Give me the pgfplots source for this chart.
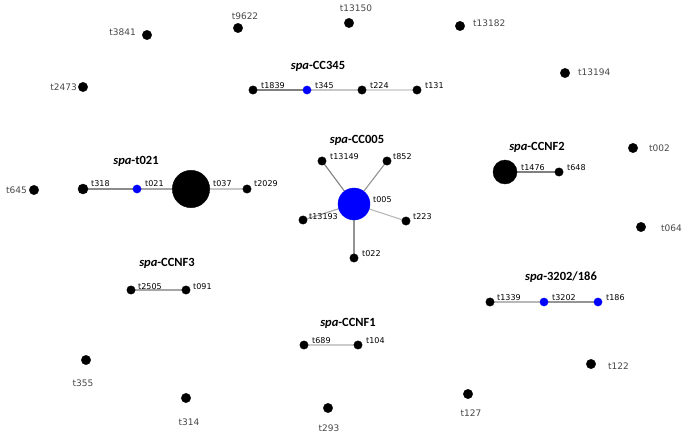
\documentclass[border=0pt]{standalone}
\usepackage{pgfplots}
\pgfplotsset{compat=1.18}
\usepackage{fontspec}
\setmainfont{DejaVu Sans}
\newfontfamily\titlefont{Carlito}
\definecolor{nodeblue}{RGB}{0,0,255}
\newcommand{\cl}[1]{{\fontsize{8}{9}\selectfont #1}}
\newcommand{\il}[1]{{\color{black!72}\fontsize{9}{10}\selectfont #1}}
\newcommand{\ttl}[1]{{\titlefont\bfseries\fontsize{12.5}{14}\selectfont\textit{spa}-#1}}
\begin{document}
\begin{tikzpicture}
\begin{axis}[
    at={(0,0)}, anchor=south west,
    width=685pt, height=436pt, scale only axis,
    xmin=0, xmax=685, ymin=0, ymax=436,
    y dir=reverse, hide axis, clip=false]
  % edges
  \addplot[black!50, line width=1.1pt] coordinates {(253,90) (307,90)};
  \addplot[black!22, line width=1.1pt] coordinates {(307,90) (362,90)};
  \addplot[black!15, line width=1.1pt] coordinates {(362,90) (417,90)};
  \addplot[black!45, line width=1.1pt] coordinates {(83,189) (137,189)};
  \addplot[black!35, line width=1.1pt] coordinates {(137,189) (191,189)};
  \addplot[black!22, line width=1.1pt] coordinates {(191,189) (247,189)};
  \addplot[black!50, line width=1.1pt] coordinates {(354,204) (322,161)};
  \addplot[black!42, line width=1.1pt] coordinates {(354,204) (387,161)};
  \addplot[black!28, line width=1.1pt] coordinates {(354,204) (406,221)};
  \addplot[black!35, line width=1.1pt] coordinates {(354,204) (303,220)};
  \addplot[black!42, line width=1.1pt] coordinates {(354,204) (354,258)};
  \addplot[black!50, line width=1.1pt] coordinates {(505,172) (559,172)};
  \addplot[black!35, line width=1.1pt] coordinates {(131,290) (186,290)};
  \addplot[black!20, line width=1.1pt] coordinates {(304,345) (358,345)};
  \addplot[black!28, line width=1.1pt] coordinates {(490,302) (544,302)};
  \addplot[black!42, line width=1.1pt] coordinates {(544,302) (598,302)};
  % isolated nodes
  \addplot[only marks, mark=*, mark size=4.7pt, black] coordinates {
    (147,35) (238,28) (349,23) (460,26) (565,73) (83,87) (34,190)
    (633,148) (641,227) (86,360) (186,398) (328,408) (468,394) (591,364)};
  % small cluster nodes
  \addplot[only marks, mark=*, mark size=4.2pt, black] coordinates {
    (253,90) (362,90) (417,90) (247,189) (322,161) (387,161) (406,221)
    (354,258) (303,220) (559,172) (131,290) (186,290) (304,345) (358,345)
    (490,302)};
  \addplot[only marks, mark=*, mark size=5pt, black] coordinates {(83,189)};
  \addplot[only marks, mark=*, mark size=4.1pt, nodeblue] coordinates {
    (307,90) (137,189) (544,302) (598,302)};
  % large nodes
  \addplot[only marks, mark=*, mark size=18.7pt, black] coordinates {(191,189)};
  \addplot[only marks, mark=*, mark size=12pt, black] coordinates {(505,172)};
  \addplot[only marks, mark=*, mark size=16pt, nodeblue] coordinates {(354,204)};
  % cluster titles
  \node at (axis cs:318,66) {\ttl{CC345}};
  \node at (axis cs:136,161) {\ttl{t021}};
  \node at (axis cs:357,140) {\ttl{CC005}};
  \node at (axis cs:537,147) {\ttl{CCNF2}};
  \node at (axis cs:167,263) {\ttl{CCNF3}};
  \node at (axis cs:348,323) {\ttl{CCNF1}};
  \node at (axis cs:561,277) {\ttl{3202/186}};
  % cluster labels
  \begin{scope}[every node/.style={anchor=west, inner sep=0pt}]
    \node at (axis cs:261,86) {\cl{t1839}};
    \node at (axis cs:315,86) {\cl{t345}};
    \node at (axis cs:370,86) {\cl{t224}};
    \node at (axis cs:425,86) {\cl{t131}};
    \node at (axis cs:91,184) {\cl{t318}};
    \node at (axis cs:145,184) {\cl{t021}};
    \node at (axis cs:213,184) {\cl{t037}};
    \node at (axis cs:254,184) {\cl{t2029}};
    \node at (axis cs:330,157) {\cl{t13149}};
    \node at (axis cs:393,157) {\cl{t852}};
    \node at (axis cs:413,217) {\cl{t223}};
    \node at (axis cs:362,254) {\cl{t022}};
    \node at (axis cs:309,217) {\cl{t13193}};
    \node at (axis cs:373,200) {\cl{t005}};
    \node at (axis cs:521,168) {\cl{t1476}};
    \node at (axis cs:567,168) {\cl{t648}};
    \node at (axis cs:138,287) {\cl{t2505}};
    \node at (axis cs:193,287) {\cl{t091}};
    \node at (axis cs:312,341) {\cl{t689}};
    \node at (axis cs:366,341) {\cl{t104}};
    \node at (axis cs:497,298) {\cl{t1339}};
    \node at (axis cs:552,298) {\cl{t3202}};
    \node at (axis cs:606,298) {\cl{t186}};
    % isolated labels, right side
    \node at (axis cs:473,23) {\il{t13182}};
    \node at (axis cs:578,72) {\il{t13194}};
    \node at (axis cs:649,148) {\il{t002}};
    \node at (axis cs:661,228) {\il{t064}};
    \node at (axis cs:608,366) {\il{t122}};
  \end{scope}
  \begin{scope}[every node/.style={anchor=east, inner sep=0pt}]
    \node at (axis cs:136,32) {\il{t3841}};
    \node at (axis cs:77,87) {\il{t2473}};
    \node at (axis cs:27,190) {\il{t645}};
  \end{scope}
  \begin{scope}[every node/.style={inner sep=0pt}]
    \node at (axis cs:245,16) {\il{t9622}};
    \node at (axis cs:356,8) {\il{t13150}};
    \node at (axis cs:83,383) {\il{t355}};
    \node at (axis cs:189,422) {\il{t314}};
    \node at (axis cs:329,428) {\il{t293}};
    \node at (axis cs:471,413) {\il{t127}};
  \end{scope}
\end{axis}
\pgfresetboundingbox
\path (0,0) rectangle (685pt,436pt);
\end{tikzpicture}
\end{document}
